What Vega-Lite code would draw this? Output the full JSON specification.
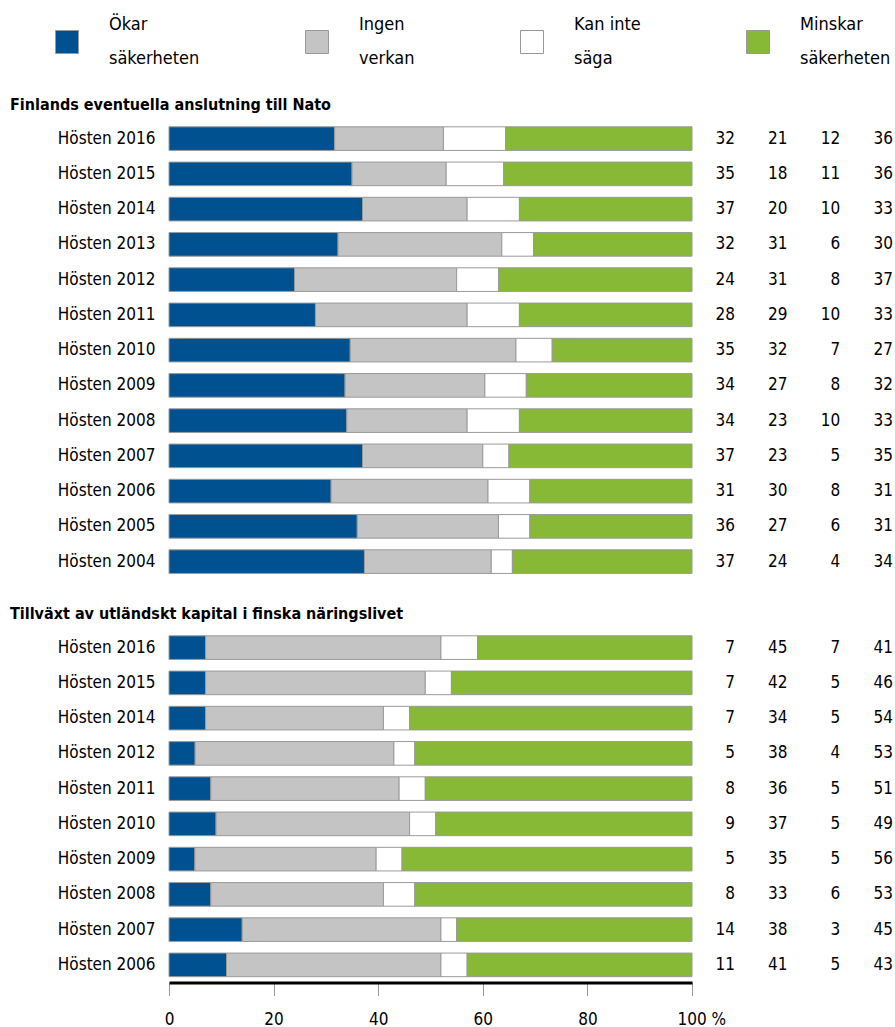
{
  "$schema": "https://vega.github.io/schema/vega-lite/v6.json",
  "padding": {"left": 10, "top": 30, "right": 2, "bottom": 0},
  "datasets": {
    "cats": [
      {"cat": "Ökar säkerheten", "rank": 1},
      {"cat": "Ingen verkan", "rank": 2},
      {"cat": "Kan inte säga", "rank": 3},
      {"cat": "Minskar säkerheten", "rank": 4}
    ],
    "rows": [
      {"s": "nato", "year": "Hösten 2016", "Ökar säkerheten": 32, "Ingen verkan": 21, "Kan inte säga": 12, "Minskar säkerheten": 36},
      {"s": "nato", "year": "Hösten 2015", "Ökar säkerheten": 35, "Ingen verkan": 18, "Kan inte säga": 11, "Minskar säkerheten": 36},
      {"s": "nato", "year": "Hösten 2014", "Ökar säkerheten": 37, "Ingen verkan": 20, "Kan inte säga": 10, "Minskar säkerheten": 33},
      {"s": "nato", "year": "Hösten 2013", "Ökar säkerheten": 32, "Ingen verkan": 31, "Kan inte säga": 6, "Minskar säkerheten": 30},
      {"s": "nato", "year": "Hösten 2012", "Ökar säkerheten": 24, "Ingen verkan": 31, "Kan inte säga": 8, "Minskar säkerheten": 37},
      {"s": "nato", "year": "Hösten 2011", "Ökar säkerheten": 28, "Ingen verkan": 29, "Kan inte säga": 10, "Minskar säkerheten": 33},
      {"s": "nato", "year": "Hösten 2010", "Ökar säkerheten": 35, "Ingen verkan": 32, "Kan inte säga": 7, "Minskar säkerheten": 27},
      {"s": "nato", "year": "Hösten 2009", "Ökar säkerheten": 34, "Ingen verkan": 27, "Kan inte säga": 8, "Minskar säkerheten": 32},
      {"s": "nato", "year": "Hösten 2008", "Ökar säkerheten": 34, "Ingen verkan": 23, "Kan inte säga": 10, "Minskar säkerheten": 33},
      {"s": "nato", "year": "Hösten 2007", "Ökar säkerheten": 37, "Ingen verkan": 23, "Kan inte säga": 5, "Minskar säkerheten": 35},
      {"s": "nato", "year": "Hösten 2006", "Ökar säkerheten": 31, "Ingen verkan": 30, "Kan inte säga": 8, "Minskar säkerheten": 31},
      {"s": "nato", "year": "Hösten 2005", "Ökar säkerheten": 36, "Ingen verkan": 27, "Kan inte säga": 6, "Minskar säkerheten": 31},
      {"s": "nato", "year": "Hösten 2004", "Ökar säkerheten": 37, "Ingen verkan": 24, "Kan inte säga": 4, "Minskar säkerheten": 34},
      {"s": "kap", "year": "Hösten 2016", "Ökar säkerheten": 7, "Ingen verkan": 45, "Kan inte säga": 7, "Minskar säkerheten": 41},
      {"s": "kap", "year": "Hösten 2015", "Ökar säkerheten": 7, "Ingen verkan": 42, "Kan inte säga": 5, "Minskar säkerheten": 46},
      {"s": "kap", "year": "Hösten 2014", "Ökar säkerheten": 7, "Ingen verkan": 34, "Kan inte säga": 5, "Minskar säkerheten": 54},
      {"s": "kap", "year": "Hösten 2012", "Ökar säkerheten": 5, "Ingen verkan": 38, "Kan inte säga": 4, "Minskar säkerheten": 53},
      {"s": "kap", "year": "Hösten 2011", "Ökar säkerheten": 8, "Ingen verkan": 36, "Kan inte säga": 5, "Minskar säkerheten": 51},
      {"s": "kap", "year": "Hösten 2010", "Ökar säkerheten": 9, "Ingen verkan": 37, "Kan inte säga": 5, "Minskar säkerheten": 49},
      {"s": "kap", "year": "Hösten 2009", "Ökar säkerheten": 5, "Ingen verkan": 35, "Kan inte säga": 5, "Minskar säkerheten": 56},
      {"s": "kap", "year": "Hösten 2008", "Ökar säkerheten": 8, "Ingen verkan": 33, "Kan inte säga": 6, "Minskar säkerheten": 53},
      {"s": "kap", "year": "Hösten 2007", "Ökar säkerheten": 14, "Ingen verkan": 38, "Kan inte säga": 3, "Minskar säkerheten": 45},
      {"s": "kap", "year": "Hösten 2006", "Ökar säkerheten": 11, "Ingen verkan": 41, "Kan inte säga": 5, "Minskar säkerheten": 43}
    ]
  },
  "data": {"name": "rows"},
  "transform": [
    {"fold": ["Ökar säkerheten", "Ingen verkan", "Kan inte säga", "Minskar säkerheten"], "as": ["cat", "value"]},
    {"lookup": "cat", "from": {"data": {"name": "cats"}, "key": "cat", "fields": ["rank"]}}
  ],
  "vconcat": [
    {
      "title": "Finlands eventuella anslutning till Nato",
      "bounds": "flush",
      "hconcat": [
        {
          "transform": [{"filter": "datum.s == 'nato'"}],
          "width": 523,
          "height": {"step": 35.25},
          "mark": {"type": "bar", "stroke": "#9a9a9a", "strokeWidth": 1},
          "encoding": {
            "y": {"field": "year", "type": "nominal", "sort": null, "scale": {"paddingInner": 0.33, "paddingOuter": 0.165}, "axis": {"title": null}},
            "x": {"field": "value", "type": "quantitative", "stack": "normalize", "axis": null},
            "order": {"field": "rank", "type": "quantitative", "sort": "ascending"},
            "color": {"field": "cat", "type": "nominal", "sort": ["Ökar säkerheten", "Ingen verkan", "Kan inte säga", "Minskar säkerheten"],
              "scale": {"domain": ["Ökar säkerheten", "Ingen verkan", "Kan inte säga", "Minskar säkerheten"], "range": ["#00518f", "#c4c4c4", "#ffffff", "#87b937"]},
              "legend": {"labelExpr": "datum.label == 'Kan inte säga' ? ['Kan inte', 'säga'] : split(datum.label, ' ')",
                "encode": {"labels": {"update": {"dy": {"value": -17}}}}}}
          }
        },
        {
          "transform": [{"filter": "datum.s == 'nato'"}],
          "width": 191,
          "height": {"step": 35.25},
          "mark": {"type": "text", "align": "right", "baseline": "middle", "fontSize": 17, "color": "black"},
          "encoding": {
            "y": {"field": "year", "type": "nominal", "sort": null, "axis": null},
            "x": {"field": "cat", "type": "nominal", "sort": ["Ökar säkerheten", "Ingen verkan", "Kan inte säga", "Minskar säkerheten"], "scale": {"type": "point", "padding": 0.312, "align": 1}, "axis": null},
            "text": {"field": "value", "type": "quantitative"}
          }
        }
      ]
    },
    {
      "title": "Tillväxt av utländskt kapital i finska näringslivet",
      "bounds": "flush",
      "hconcat": [
        {
          "transform": [{"filter": "datum.s == 'kap'"}],
          "width": 523,
          "height": {"step": 35.25},
          "mark": {"type": "bar", "stroke": "#9a9a9a", "strokeWidth": 1},
          "encoding": {
            "y": {"field": "year", "type": "nominal", "sort": null, "scale": {"paddingInner": 0.33, "paddingOuter": 0.165}, "axis": {"title": null}},
            "x": {"field": "value", "type": "quantitative", "stack": "normalize",
              "axis": {"title": null, "values": [0, 0.2, 0.4, 0.6, 0.8, 1], "grid": false, "labelFlush": false,
                "labelExpr": "datum.value == 1 ? '100 %' : format(datum.value * 100, 'd')",
                "labelAlign": {"condition": {"test": "datum.value == 1", "value": "left"}, "value": "center"},
                "labelOffset": {"condition": {"test": "datum.value == 1", "value": -15}, "value": 0},
                "domainColor": "black", "domainWidth": 3, "tickColor": "#999999", "tickSize": 13, "tickWidth": 1, "labelPadding": 16}},
            "order": {"field": "rank", "type": "quantitative", "sort": "ascending"},
            "color": {"field": "cat", "type": "nominal", "sort": ["Ökar säkerheten", "Ingen verkan", "Kan inte säga", "Minskar säkerheten"],
              "scale": {"domain": ["Ökar säkerheten", "Ingen verkan", "Kan inte säga", "Minskar säkerheten"], "range": ["#00518f", "#c4c4c4", "#ffffff", "#87b937"]},
              "legend": {"labelExpr": "datum.label == 'Kan inte säga' ? ['Kan inte', 'säga'] : split(datum.label, ' ')",
                "encode": {"labels": {"update": {"dy": {"value": -17}}}}}}
          }
        },
        {
          "transform": [{"filter": "datum.s == 'kap'"}],
          "width": 191,
          "height": {"step": 35.25},
          "mark": {"type": "text", "align": "right", "baseline": "middle", "fontSize": 17, "color": "black"},
          "encoding": {
            "y": {"field": "year", "type": "nominal", "sort": null, "axis": null},
            "x": {"field": "cat", "type": "nominal", "sort": ["Ökar säkerheten", "Ingen verkan", "Kan inte säga", "Minskar säkerheten"], "scale": {"type": "point", "padding": 0.312, "align": 1}, "axis": null},
            "text": {"field": "value", "type": "quantitative"}
          }
        }
      ]
    }
  ],
  "spacing": 26,
  "config": {
    "font": "DejaVu Sans Condensed, sans-serif",
    "view": {"stroke": null},
    "concat": {"spacing": 10},
    "axis": {"labelFontSize": 17, "labelColor": "black", "domain": true},
    "axisY": {"domain": false, "ticks": false, "labelPadding": 14},
    "title": {"anchor": "start", "frame": "group", "fontSize": 16, "fontWeight": "bold", "color": "black", "offset": 8, "dx": -159},
    "style": {"guide-label": {"lineHeight": 34}},
    "legend": {
      "orient": "none", "legendX": -114, "legendY": -91, "direction": "horizontal", "title": null, "labelFontSize": 18, "labelColor": "black",
      "labelOffset": 30, "symbolType": "square", "symbolSize": 529, "symbolStrokeColor": "#999999", "symbolStrokeWidth": 1,
      "symbolOpacity": 1, "columnPadding": 103, "labelLimit": 200
    }
  }
}
